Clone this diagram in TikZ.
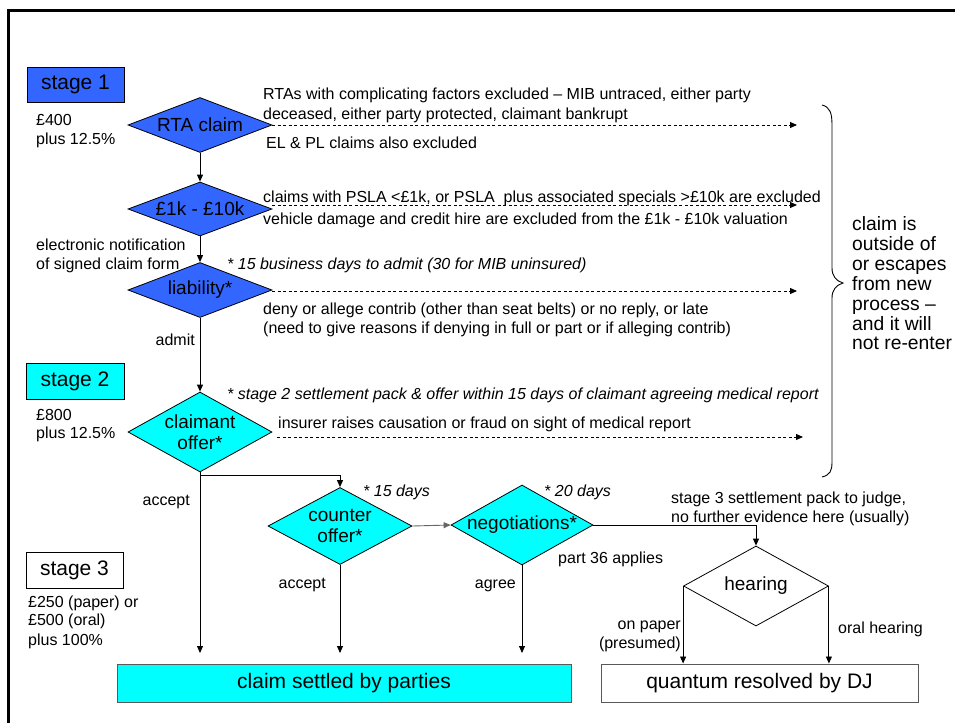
\documentclass[tikz,border=0pt]{standalone}
\usepackage{fontspec}
\setmainfont{Liberation Sans}
\usetikzlibrary{shapes.geometric,arrows.meta}
\definecolor{pblue}{RGB}{51,102,255}
\definecolor{pcyan}{RGB}{0,255,255}
\begin{document}
\begin{tikzpicture}[x=1pt,y=-1pt,
  txt/.style={inner sep=0pt, font=\fontsize{16}{19.5}\selectfont},
  itxt/.style={inner sep=0pt, font=\fontsize{16}{19.5}\selectfont\itshape},
  rtxt/.style={inner sep=0pt, font=\fontsize{19.3}{20}\selectfont},
  dia/.style={diamond, draw=black, line width=0.8pt, inner sep=0pt, minimum width=144pt},
  dtext/.style={inner sep=0pt, font=\fontsize{19}{20.5}\selectfont, align=center},
  stagebox/.style={draw=black, line width=0.8pt, inner sep=0pt, minimum width=97pt, minimum height=35pt, font=\fontsize{21}{24}\selectfont},
  bigbox/.style={draw=black!65, line width=1pt, inner sep=0pt, minimum height=38pt, font=\fontsize{21}{24}\selectfont},
  arr/.style={-{Triangle[length=7pt,width=6pt]}, line width=0.9pt},
  darr/.style={arr, dash pattern=on 3pt off 2.5pt},
]
\useasboundingbox (0,0) rectangle (955,723);
\fill[white] (0,0) rectangle (955,723);
% frame
\draw[line width=3pt] (8,723) -- (8,10) -- (955,10);

% stage boxes
\node[stagebox, fill=pblue] (s1) at (75.5,84.5) {stage 1};
\node[stagebox, fill=pcyan, minimum width=98pt, minimum height=36pt] (s2) at (75,381) {stage 2};
\node[stagebox, fill=white, minimum height=36pt] (s3) at (74.5,570) {stage 3};

% fees
\node[txt, anchor=base west] (f1a) at (36,125) {£400};
\node[txt, anchor=base west] (f1b) at (36,144) {plus 12.5\%};
\node[txt, anchor=base west] (f2a) at (36,420) {£800};
\node[txt, anchor=base west] (f2b) at (36,438) {plus 12.5\%};
\node[txt, anchor=base west] (f3a) at (28,607) {£250 (paper) or};
\node[txt, anchor=base west] (f3b) at (28,625) {£500 (oral)};
\node[txt, anchor=base west] (f3c) at (28,645) {plus 100\%};

% diamonds
\node[dia, fill=pblue, minimum height=55pt] (rta) at (200,125) {};
\node[dtext] (rtat) at (rta) {RTA claim};
\node[dia, fill=pblue, minimum height=54pt] (fk) at (200,209) {};
\node[dtext] (fkt) at (fk) {£1k - £10k};
\node[dia, fill=pblue, minimum height=55pt] (liab) at (200,290) {};
\node[dtext] (liabt) at (liab) {liability*};
\node[dia, fill=pcyan, minimum height=80pt] (co) at (200,432) {};
\node[dtext] (cot) at (co) {claimant\\offer*};
\node[dia, fill=pcyan, minimum height=77pt] (cnt) at (340,526) {};
\node[dtext] (cntt) at (cnt) {counter\\offer*};
\node[dia, fill=pcyan, minimum width=142pt, minimum height=80pt] (neg) at (522,525) {};
\node[dtext] (negt) at (neg) {negotiations*};
\node[dia, fill=white, minimum width=145pt, minimum height=80pt] (hear) at (756,586) {};
\node[dtext] (heart) at (hear) {hearing};

% result boxes
\node[bigbox, fill=pcyan, minimum width=454pt] (set) at (344,683) {claim settled by parties};
\node[bigbox, fill=white, minimum width=317pt] (qdj) at (759.5,683) {quantum resolved by DJ};

% stage 1 texts
\node[txt, anchor=base west] (t1a) at (263,99) {RTAs with complicating factors excluded – MIB untraced, either party};
\node[txt, anchor=base west] (t1b) at (263,119) {deceased, either party protected, claimant bankrupt};
\node[txt, anchor=base west] (t1c) at (266,148) {EL \& PL claims also excluded};
\node[txt, anchor=base west] (t2a) at (263,202) {claims with PSLA <£1k, or PSLA\ \ plus associated specials >£10k are excluded};
\node[txt, anchor=base west] (t2b) at (263,224) {vehicle damage and credit hire are excluded from the £1k - £10k valuation};
\node[txt, anchor=base west] (en1) at (36,250) {electronic notification};
\node[txt, anchor=base west] (en2) at (36,269) {of signed claim form};
\node[itxt, anchor=base west] (t3i) at (227,269) {* 15 business days to admit (30 for MIB uninsured)};
\node[txt, anchor=base west] (t3a) at (263,314) {deny or allege contrib (other than seat belts) or no reply, or late};
\node[txt, anchor=base west] (t3b) at (263,333) {(need to give reasons if denying in full or part or if alleging contrib)};
\node[txt, anchor=base east] (adm) at (195,345) {admit};

% stage 2 texts
\node[itxt, anchor=base west] (t4i) at (227,399) {* stage 2 settlement pack \& offer within 15 days of claimant agreeing medical report};
\node[txt, anchor=base west] (t4a) at (278,428) {insurer raises causation or fraud on sight of medical report};
\node[txt, anchor=base east] (acc1) at (190,505) {accept};
\node[itxt, anchor=base west] (d15) at (363,496) {* 15 days};
\node[itxt, anchor=base west] (d20) at (544,496) {* 20 days};
\node[txt, anchor=base west] (s3a) at (671,503) {stage 3 settlement pack to judge,};
\node[txt, anchor=base west] (s3b) at (671,522) {no further evidence here (usually)};
\node[txt, anchor=base west] (p36) at (558,563) {part 36 applies};
\node[txt, anchor=base east] (agr) at (516,588) {agree};
\node[txt, anchor=base east] (acc2) at (326,588) {accept};
\node[txt, anchor=base east] (onp1) at (681,629) {on paper};
\node[txt, anchor=base east] (onp2) at (681,648) {(presumed)};
\node[txt, anchor=base west] (oral) at (838,633) {oral hearing};

% right-hand text
\node[rtxt, anchor=base west] (r1) at (852,230) {claim is};
\node[rtxt, anchor=base west] (r2) at (852,250) {outside of};
\node[rtxt, anchor=base west] (r3) at (852,270) {or escapes};
\node[rtxt, anchor=base west] (r4) at (852,290) {from new};
\node[rtxt, anchor=base west] (r5) at (852,310) {process –};
\node[rtxt, anchor=base west] (r6) at (852,330) {and it will};
\node[rtxt, anchor=base west] (r7) at (852,349) {not re-enter};

% brace
\draw[line width=0.9pt] (822,105) .. controls (830,107) and (832,113) .. (832,125) -- (832,268)
  .. controls (832,276) and (836,281) .. (843,283) .. controls (836,285) and (832,290) .. (832,298)
  -- (832,462) .. controls (832,471) and (830,475) .. (822,477);

% free ends
\coordinate (e1) at (797,125);
\coordinate (e2) at (797,205);
\coordinate (e3) at (797,291);
\coordinate (e4) at (803,437);
\coordinate (stop) at (200,653);

% dashed exits
\draw[darr] (rta.east) -- (e1);
\draw[darr] ([yshift=4pt]fk.east) -- (e2);
\draw[darr] ([yshift=-1pt]liab.east) -- (e3);
\draw[darr] ([shift={(5pt,-5pt)}]co.east) -- (e4);

% main flow
\draw[arr] (rta.south) -- (fk.north);
\draw[arr] (fk.south) -- (liab.north);
\draw[arr] (liab.south) -- (co.north);
\draw[arr] (co.south) -- (stop);
\draw[arr] ([yshift=-3pt]co.south) -| (cnt.north);
\draw[arr] (cnt.south) -- (cnt.south |- stop);
\draw[arr, draw=black!60] (cnt.east) -- (neg.west);
\draw[arr] (neg.south) -- (neg.south |- stop);
\draw[arr] (neg.east) -| (hear.north);
\draw[arr] (hear.west) -- (hear.west |- qdj.north);
\draw[arr] (hear.east) -- (hear.east |- qdj.north);
\end{tikzpicture}
\end{document}
